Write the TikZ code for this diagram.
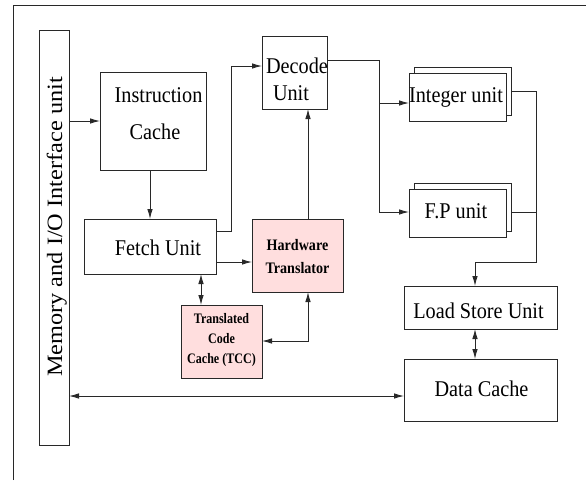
\documentclass[tikz,border=0pt]{standalone}
\usepackage{fontspec}
\setmainfont{Liberation Serif}
\usetikzlibrary{arrows.meta}
\definecolor{tpink}{RGB}{255,222,222}
\definecolor{ln}{RGB}{40,40,40}
\newcommand\mtxt[1]{\scalebox{0.9}[1]{#1}}
\newcommand\htxt[1]{\scalebox{0.88}[1]{#1}}
\newcommand\ctxt[1]{\scalebox{0.83}[1]{#1}}
\begin{document}
\begin{tikzpicture}[x=1pt,y=-1pt,
  box/.style={draw=ln,line width=0.9pt,fill=white,inner sep=0pt,outer sep=0pt},
  pbox/.style={box,fill=tpink},
  lbl/.style={inner sep=0pt,anchor=base,font=\fontsize{22.5}{27}\selectfont},
  hlbl/.style={inner sep=0pt,anchor=base,font=\fontsize{16}{19}\selectfont\bfseries},
  clbl/.style={inner sep=0pt,anchor=base,font=\fontsize{14.5}{17}\selectfont\bfseries},
  wire/.style={draw=ln,line width=0.9pt},
  arr/.style={wire,-{Latex[length=10pt,width=5.5pt]}},
  darr/.style={wire,{Latex[length=10pt,width=5.5pt]}-{Latex[length=10pt,width=5.5pt]}}]
\useasboundingbox (0,0) rectangle (586,480);

% outer frame
\draw[ln,line width=0.9pt] (13,480) -- (13,5) -- (586,5);

% memory and I/O interface
\node[box,minimum width=30pt,minimum height=415pt] (mem) at (54,237.5) {};
\node[inner sep=0pt,anchor=base,rotate=90,font=\fontsize{24.3}{29}\selectfont] (memt) at (62,227)
  {\scalebox{1}[0.9]{Memory and I/O Interface unit}};

% front-end blocks
\node[box,minimum width=106pt,minimum height=98pt] (ic) at (153,121) {};
\node[lbl] (ict1) at (158.5,102) {\mtxt{Instruction}};
\node[lbl] (ict2) at (155,139) {\mtxt{Cache}};

\node[box,minimum width=132pt,minimum height=55pt] (fetch) at (150,246.5) {};
\node[lbl] (fetcht) at (158,255) {\mtxt{Fetch Unit}};

\node[box,minimum width=65pt,minimum height=73pt] (dec) at (294.5,72.5) {};
\node[lbl] (dect1) at (297,73) {\mtxt{Decode}};
\node[lbl] (dect2) at (291,100) {\mtxt{Unit}};

\node[pbox,minimum width=91pt,minimum height=73pt] (ht) at (297.5,255.5) {};
\node[hlbl] (htt1) at (297.5,250) {\htxt{Hardware}};
\node[hlbl] (htt2) at (297.5,273) {\htxt{Translator}};

\node[pbox,minimum width=81pt,minimum height=73pt] (tcc) at (221.5,341.5) {};
\node[clbl] (tcct1) at (221.5,323) {\ctxt{Translated}};
\node[clbl] (tcct2) at (221.5,343) {\ctxt{Code}};
\node[clbl] (tcct3) at (221.5,363) {\ctxt{Cache (TCC)}};

% execution units (stacked)
\node[box,minimum width=97pt,minimum height=48pt] (intb) at (462.5,91) {};
\node[box,minimum width=97pt,minimum height=48pt] (int) at (457.5,97) {};
\node[lbl] (intt) at (456,102) {\mtxt{Integer unit}};

\node[box,minimum width=97pt,minimum height=48pt] (fpb) at (462.5,207) {};
\node[box,minimum width=97pt,minimum height=48pt] (fp) at (457.5,213) {};
\node[lbl] (fpt) at (456,218) {\mtxt{F.P unit}};

% memory side
\node[box,minimum width=153pt,minimum height=43pt] (lsu) at (480.5,307.5) {};
\node[lbl] (lsut) at (478.5,318) {\mtxt{Load Store Unit}};

\node[box,minimum width=153pt,minimum height=62pt] (dc) at (480.5,390) {};
\node[lbl] (dct) at (481.5,396) {\mtxt{Data Cache}};

% connections
\draw[arr] (ic.west -| mem.east) -- (ic.west);
\draw[arr] (ic.south -| fetch.north) -- (fetch.north);
\draw[arr] (fetch.east |- 0,231) -- (231,231) -- (231,66) -- (dec.west |- 0,66);
\draw[arr] (fetch.east |- 0,262) -- (ht.west |- 0,262);
\draw[arr] (ht.north -| 308,0) -- (dec.south -| 308,0);
\draw[darr] (ht.south -| 308,0) -- (308,341) -- (tcc.east |- 0,341);
\draw[darr] (fetch.south -| 201,0) -- (tcc.north -| 201,0);

\draw[wire] (dec.east |- 0,60) -- (379,60) -- (379,212);
\draw[arr] (379,103) -- (int.west |- 0,103);
\draw[arr] (379,212) -- (fp.west |- 0,212);

\draw[wire] (intb.east) -- (536,91) -- (536,262) -- (475,262);
\draw[wire] (fpb.east |- 0,212) -- (536,212);
\draw[arr] (475,262) -- (lsu.north -| 475,0);

\draw[darr] (lsu.south -| 475,0) -- (dc.north -| 475,0);
\draw[darr] (mem.east |- 0,396) -- (dc.west |- 0,396);
\end{tikzpicture}
\end{document}
